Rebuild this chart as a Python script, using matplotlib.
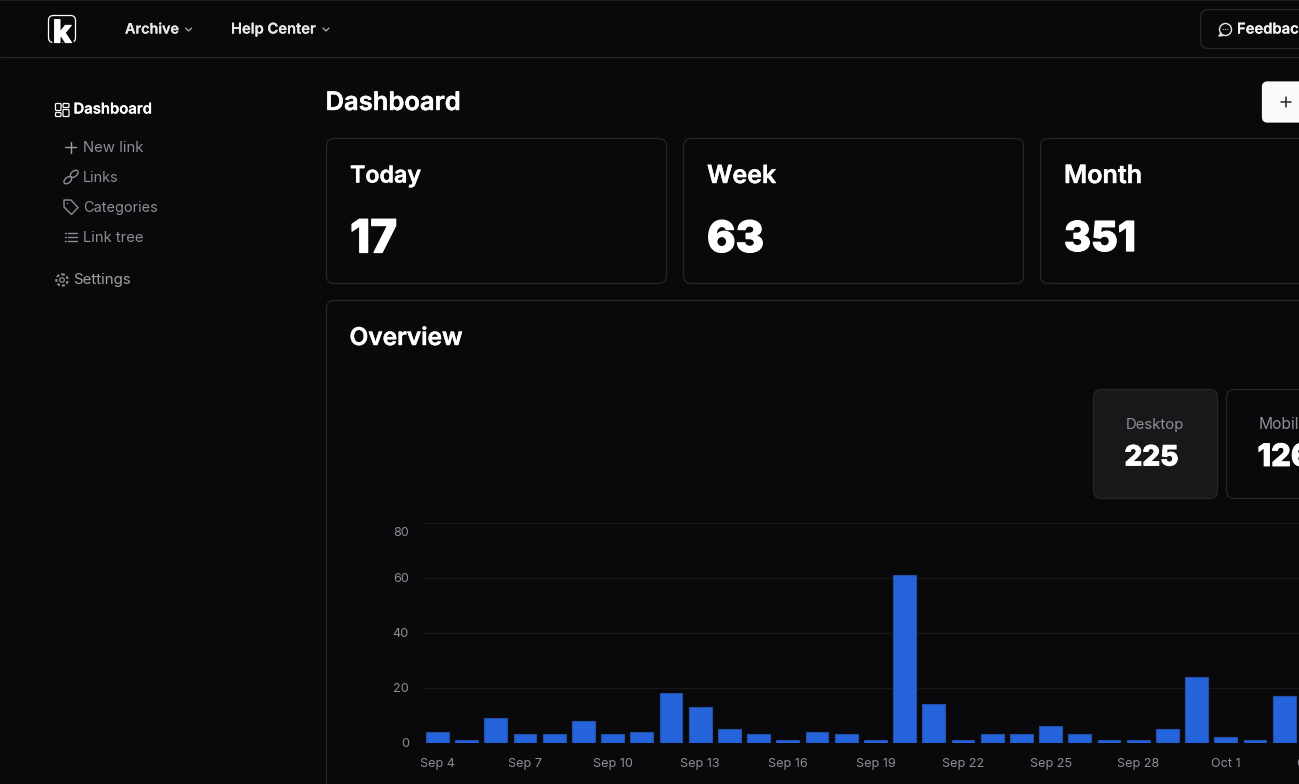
import matplotlib
matplotlib.use("Agg")
import matplotlib.pyplot as plt
import matplotlib.patheffects as pe
from matplotlib.patches import FancyBboxPatch, Circle, Polygon, Ellipse
from matplotlib.lines import Line2D
from matplotlib.transforms import ScaledTranslation

W, H = 1299, 784
BG = "#09090b"
BORDER = "#27272a"
MUTED = "#8e8e93"
plt.rcParams["font.family"] = ["Inter", "DejaVu Sans"]

# chart data
days = ["Sep 4", "Sep 5", "Sep 6", "Sep 7", "Sep 8", "Sep 9", "Sep 10", "Sep 11", "Sep 12", "Sep 13",
        "Sep 14", "Sep 15", "Sep 16", "Sep 17", "Sep 18", "Sep 19", "Sep 20", "Sep 21", "Sep 22", "Sep 23",
        "Sep 24", "Sep 25", "Sep 26", "Sep 27", "Sep 28", "Sep 29", "Sep 30", "Oct 1", "Oct 2", "Oct 3"]
clicks = [4, 1, 9, 3, 3, 8, 3, 4, 18, 13, 5, 3, 1, 4, 3, 1, 61, 14, 1, 3, 3, 6, 3, 1, 1, 5, 24, 2, 1, 17]
y_ticks = [0, 20, 40, 60, 80]
x_tick_positions = [0, 3, 6, 9, 12, 15, 18, 21, 24, 27, 30]
x_tick_labels = ["Sep 4", "Sep 7", "Sep 10", "Sep 13", "Sep 16", "Sep 19", "Sep 22", "Sep 25", "Sep 28", "Oct 1", "Oct 4"]

fig = plt.figure(figsize=(W / 100, H / 100), dpi=100, facecolor=BG)
ui = fig.add_axes([0, 0, 1, 1], zorder=1)
ui.set_xlim(0, W)
ui.set_ylim(H, 0)
ui.axis("off")


def card(x0, y0, x1, y1, fc=BG, ec=BORDER, r=8):
    ui.add_patch(FancyBboxPatch((x0 + r, y0 + r), x1 - x0 - 2 * r, y1 - y0 - 2 * r,
                                boxstyle=f"round,pad={r},rounding_size={r}", fc=fc, ec=ec, lw=0.9,
                                mutation_aspect=1))


def label(s, x, y, width=None, px=14, color="white", weight="normal", thick=0.0):
    t = ui.text(x - (0.5 if px >= 20 else 0), y - (0 if px >= 30 else 1), s, fontsize=px * 0.72, color=color,
                fontweight=weight, ha="left", va="center_baseline")
    if width:
        r = fig.canvas.get_renderer()
        t.set_fontsize(t.get_fontsize() * width / t.get_window_extent(r).width)
    if thick:
        t.set_path_effects([pe.withStroke(linewidth=thick, foreground=color)])
    return t


def stroke(xs, ys, color=MUTED, lw=1.0):
    ui.add_line(Line2D(xs, ys, color=color, lw=lw, solid_capstyle="round"))


# header
stroke([0, W], [57.0, 57.0], BORDER, 0.9)
stroke([0, W], [0.3, 0.3], "#1c1c1f", 0.8)
card(48.5, 15.5, 75.5, 42.5, fc=BG, ec="white", r=5)
k = ui.text(52.8, 42.7, "k", fontsize=23, color="white", fontweight="heavy", ha="left", va="baseline", zorder=4)
k.set_path_effects([pe.withStroke(linewidth=3.2, foreground=BG), pe.withStroke(linewidth=0.6, foreground="white")])
label("Archive", 125, 29, width=54, weight="semibold", color="#e8e8e8", thick=0.12)
label("Help Center", 231, 29, width=85, weight="semibold", color="#e8e8e8", thick=0.12)
for cx in (188.5, 326):
    stroke([cx - 3, cx, cx + 3], [28, 31, 28], "#b0b0b0", 0.9)
card(1200.5, 9.5, 1340, 48.5)
ui.add_patch(Circle((1225.5, 29.5), 6, fc="none", ec="#e8e8e8", lw=1))
stroke([1221, 1219, 1223], [33, 36, 35.5], "#e8e8e8", 1)
for dx in (-2.3, 0, 2.3):
    ui.add_patch(Circle((1225.5 + dx, 29.5), 0.55, fc="#e8e8e8", ec="none"))
label("Feedback", 1237, 29, width=70, weight="semibold", color="#f2f2f2", thick=0.12)

# sidebar
for x, y, w_, h_ in [(55.5, 103.5, 5.5, 7), (63, 103.5, 6, 4), (55.5, 112.5, 5.5, 4), (63, 109.5, 6, 7)]:
    ui.add_patch(FancyBboxPatch((x + 1, y + 1), w_ - 2, h_ - 2, boxstyle="round,pad=1,rounding_size=1",
                                fc="none", ec="white", lw=0.9))
label("Dashboard", 73.5, 109, width=78.5, weight="semibold", thick=0.12)
nav_items = ["New link", "Links", "Categories", "Link tree"]
nav_ys = [147, 177, 207, 237]
nav_widths = [61, 36, 75, 61]
for s, y, w_ in zip(nav_items, nav_ys, nav_widths):
    label(s, 83, y, width=w_, color=MUTED)
stroke([65.5, 76.5], [147, 147], "#a0a0a0")
stroke([71, 71], [141.5, 152.5], "#a0a0a0")
for cx, cy in ((67.8, 180.2), (74.2, 173.8)):
    ui.add_patch(Ellipse((cx, cy), 9, 5.5, angle=-40, fc="none", ec=MUTED, lw=1))
ui.add_patch(Polygon([[64, 200], [71, 200], [78, 207.5], [71.5, 214.5], [64, 207]], closed=True,
                     fc="none", ec=MUTED, lw=1, joinstyle="round"))
ui.add_patch(Circle((67.5, 203.5), 0.7, fc=MUTED, ec="none"))
for yy in (233, 237, 241):
    stroke([65, 65.7], [yy, yy], MUTED)
    stroke([68, 77.5], [yy, yy], MUTED)
ui.add_patch(Circle((62, 280), 2.3, fc="none", ec=MUTED, lw=0.9))
ui.add_patch(Circle((62, 280), 5.7, fc="none", ec=MUTED, lw=1.5, ls=(0, (1.4, 1.0))))
label("Settings", 73.5, 279, width=58.5, color="#a0a0a0")

# title and summary cards
label("Dashboard", 326, 102, width=135, px=24, weight="semibold", thick=0.3)
card(1262.5, 82, 1340, 122, fc="#fafafa", ec="#fafafa", r=5)
stroke([1281, 1291], [102, 102], "#27272a", 1.1)
stroke([1286, 1286], [97, 107], "#27272a", 1.1)

stat_titles = ["Today", "Week", "Month"]
stat_values = ["17", "63", "351"]
stat_lefts = [326.5, 683.5, 1040.5]
stat_rights = [666.5, 1023.5, 1380]
title_widths = [71, 69, 78]
value_widths = [47, 57, 72]
for s, v, x0, x1, tw, vw in zip(stat_titles, stat_values, stat_lefts, stat_rights, title_widths, value_widths):
    card(x0, 138.5, x1, 283.5)
    label(s, x0 + 24, 175, width=tw, px=24, weight="semibold", thick=0.3)
    label(v, x0 + 24, 236, width=vw, px=48, weight="heavy", thick=0.9)

# overview panel
card(326.5, 300.5, 1400, 860)
label("Overview", 350, 337, width=113, px=24, weight="semibold", thick=0.3)
card(1093.5, 389.5, 1217.5, 498.5, fc="#18181b")
card(1226.5, 389.5, 1400, 498.5)
label("Desktop", 1126, 424, width=59, color=MUTED)
label("225", 1125, 455, width=54, px=30, weight="heavy", thick=0.6)
label("Mobile", 1259, 424, width=50, color=MUTED)
label("126", 1258, 455, width=54, px=30, weight="heavy", thick=0.6)

# chart: band width is 29.2 px; the axes run past the right edge of the page, as in the reference
left, right = 422.8, 422.8 + 32 * 29.2
top, bottom = 522.7, 742.7
ax = fig.add_axes([left / W, 1 - bottom / H, (right - left) / W, (bottom - top) / H], zorder=2)
ax.patch.set_alpha(0)
ax.set_xlim(-0.5, 31.5)
ax.set_ylim(0, 80)
ax.set_axisbelow(True)
ax.grid(axis="y", color="#18181b", lw=1.0)
ax.bar(range(len(clicks)), clicks, width=0.78, color="#2664dc", edgecolor="#2450a8", linewidth=0.8)
for sp in ax.spines.values():
    sp.set_visible(False)
ax.set_yticks(y_ticks)
ax.set_xticks(x_tick_positions)
ax.set_xticklabels(x_tick_labels)
ax.tick_params(axis="both", length=0, labelsize=9.1, labelcolor="#8e8e93")
ax.tick_params(axis="x", pad=11)
ax.tick_params(axis="y", pad=10)
fig.canvas.draw()
# the top label sits below its grid line in the reference
top_label = ax.get_yticklabels()[-1]
top_label.set_transform(top_label.get_transform() + ScaledTranslation(0, -9 / 100, fig.dpi_scale_trans))

fig.savefig("out.png", dpi=100, facecolor=BG)
